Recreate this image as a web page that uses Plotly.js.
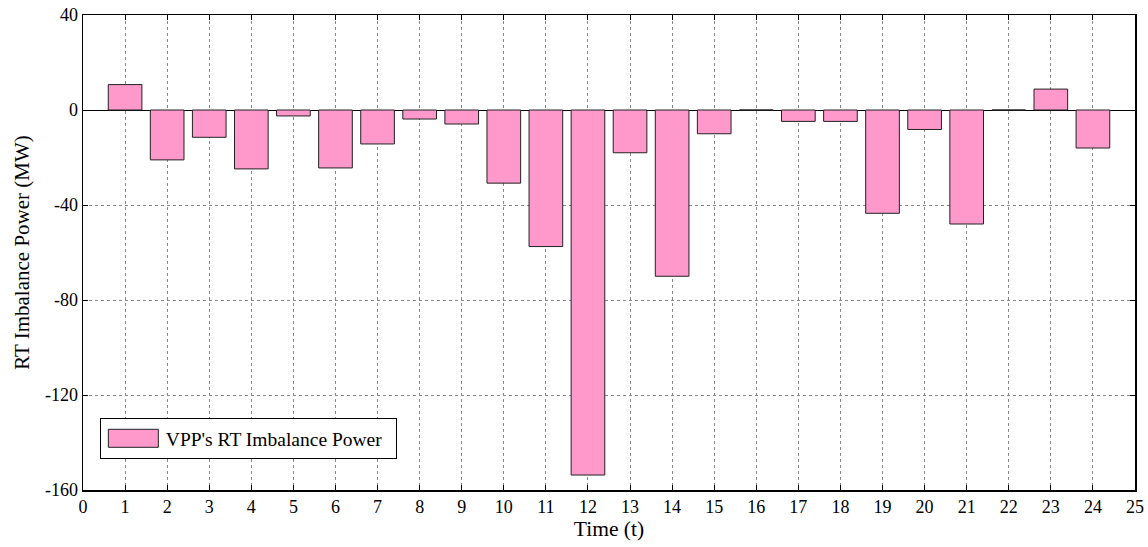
<!DOCTYPE html>
<html><head><meta charset="utf-8">
<script src="https://cdn.plot.ly/plotly-3.0.1.min.js"></script>
<style>body{margin:0;background:#fff}#chart{width:1148px;height:547px}</style>
</head><body><div id="chart"></div>
<script>
const hours = [1,2,3,4,5,6,7,8,9,10,11,12,13,14,15,16,17,18,19,20,21,22,23,24];
const imbalance = [10.7,-21,-11.5,-24.8,-2.5,-24.4,-14.3,-3.8,-5.9,-30.8,-57.5,-153.7,-18,-70,-10,0,-4.8,-4.8,-43.5,-8.2,-48,0,8.8,-16];
const seriesName = "VPP's RT Imbalance Power";
const xTicks = [0,1,2,3,4,5,6,7,8,9,10,11,12,13,14,15,16,17,18,19,20,21,22,23,24,25];
const yTicks = [-160,-120,-80,-40,0,40];

const fam = 'Liberation Serif';
const f = (s) => ({family: fam, size: s, color: '#000'});

Plotly.newPlot('chart', [{
  type: 'bar', x: hours, y: imbalance, name: seriesName, width: 0.8,
  marker: {color: '#FF99CC', line: {color: '#222', width: 1}},
  showlegend: true
}], {
  width: 1148, height: 547,
  margin: {l: 83, r: 13, t: 15, b: 57},
  paper_bgcolor: '#fff', plot_bgcolor: '#fff',
  font: f(18),
  showlegend: true,
  legend: {x: 0.016, y: 0.065, xanchor: 'left', yanchor: 'bottom', bgcolor: '#fff',
           bordercolor: '#000', borderwidth: 1, font: f(19.5), itemwidth: 55},
  xaxis: {range: [0, 25], tickvals: xTicks, ticktext: xTicks.map(String),
          showline: true, linecolor: '#000', linewidth: 1.5, mirror: 'ticks',
          ticks: 'inside', ticklen: 5, tickcolor: '#000',
          showgrid: true, gridcolor: '#888', griddash: 'dot', gridwidth: 1,
          zeroline: false, tickfont: f(18),
          title: {text: 'Time (t)', font: f(21.5), standoff: 0}},
  yaxis: {range: [-160, 40], tickvals: yTicks, ticktext: yTicks.map(String),
          showline: true, linecolor: '#000', linewidth: 1.5, mirror: 'ticks',
          ticks: 'inside', ticklen: 5, tickcolor: '#000',
          showgrid: true, gridcolor: '#888', griddash: 'dot', gridwidth: 1,
          zeroline: true, zerolinecolor: '#000', zerolinewidth: 1,
          tickfont: f(18),
          title: {text: 'RT Imbalance Power (MW)', font: f(21), standoff: 9}},
  bargap: 0.2
}, {displayModeBar: false, staticPlot: true}).then(function (gd) {
  // widen the legend swatch to a MATLAB-style patch
  gd.querySelectorAll('.legend .legendpoints path').forEach(function (p) {
    p.setAttribute('d', 'M25,9H-25V-9H25Z');
  });
  var bg = gd.querySelector('.legend rect.bg');
  if (bg) { bg.setAttribute('width', String(parseFloat(bg.getAttribute('width')) + 8)); }
});
</script></body></html>
